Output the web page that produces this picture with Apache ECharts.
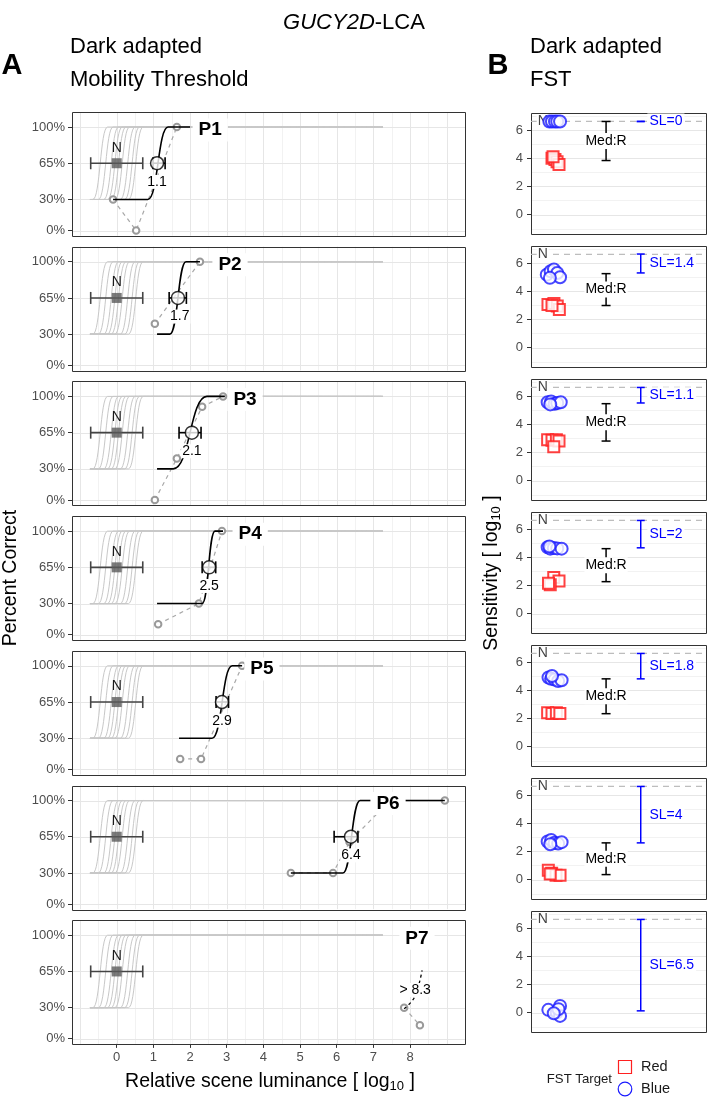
<!DOCTYPE html>
<html><head><meta charset="utf-8">
<script src="https://cdn.jsdelivr.net/npm/echarts@6/dist/echarts.min.js"></script>
<style>html,body{margin:0;padding:0;background:#fff}#c{width:708px;height:1097px}</style>
</head><body><div id="c"></div><script>
// ================= DATA =================
const patients = ['P1','P2','P3','P4','P5','P6','P7'];
const xTickLabels = [0,1,2,3,4,5,6,7,8];
const yTickLabelsA = [0,30,65,100];
const yTickLabelsB = [0,2,4,6];
const aGridMajorX = [-1,0,1,2,3,4,5,6,7,8,9];
const aGridMinorX = [-0.5,0.5,1.5,2.5,3.5,4.5,5.5,6.5,7.5,8.5];
const bGridMajorY = [0,2,4,6];
const bGridMinorY = [-1,1,3,5,7];

// Normal-sighted control curves: flat start, rise start, rise end, flat end
const normalCurves = [
  [[-0.73,30],[-0.65,30],[-0.25,100],[7.26,100]],
  [[-0.73,30],[-0.50,30],[-0.10,100],[7.26,100]],
  [[-0.73,30],[-0.35,30],[0.05,100],[7.26,100]],
  [[-0.73,30],[-0.25,30],[0.15,100],[7.26,100]],
  [[-0.73,30],[-0.15,30],[0.25,100],[7.26,100]],
  [[-0.73,30],[-0.05,30],[0.35,100],[7.26,100]],
  [[-0.73,30],[0.10,30],[0.50,100],[7.26,100]],
  [[-0.73,30],[0.22,30],[0.62,100],[7.26,100]],
  [[-0.73,30],[0.32,30],[0.72,100],[7.26,100]]
];
const normalMean = [0, 65];
const normalRange = [-0.71, 0.71];
const normalLabelY = 80;

// Patient observed points (grey dashed)
const patientObs = [
  [[-0.1,30],[0.53,0],[1.64,100]],
  [[1.04,40],[2.27,100]],
  [[1.04,0],[1.64,40],[2.33,90],[2.9,100]],
  [[1.13,10],[2.24,30],[2.87,100]],
  [[1.73,10],[2.3,10],[3.42,100]],
  [[4.75,30],[5.9,30],[6.35,60],[7.45,100],[8.95,100]],
  [[7.84,30],[8.27,13]]
];
// Patient fitted curves (black)
const patientFit = [
  [[-0.1,30],[0.85,30],[1.4,100],[2.0,100]],
  [[1.1,30],[1.45,30],[1.89,100],[2.27,100]],
  [[1.1,30],[1.54,30],[2.46,100],[2.95,100]],
  [[1.1,30],[2.33,30],[2.68,100],[2.9,100]],
  [[1.7,30],[2.6,30],[3.15,100],[3.42,100]],
  [[4.75,30],[6.17,30],[6.64,100],[8.95,100]],
  [[7.84,29],[8.12,40],[8.33,66]]
];
const thresholdX = [1.1, 1.67, 2.05, 2.52, 2.87, 6.39, null];
const thresholdCI = [[0.99,1.32],[1.43,1.9],[1.7,2.3],[2.33,2.7],[2.71,3.05],[5.93,6.58],null];
const thresholdText = ['1.1','1.7','2.1','2.5','2.9','6.4','> 8.3'];
const thresholdTextX = [1.1, 1.72, 2.05, 2.52, 2.87, 6.39, 8.14];
const thresholdTextY = 47;
const patientLabelX = [2.55, 3.09, 3.5, 3.64, 3.96, 7.4, 8.19];

// FST (panel B)
const nLevel = 6.6;
const blueFST = [
  [[1.05,6.6],[1.2,6.6],[1.37,6.6],[1.5,6.6],[1.66,6.6]],
  [[0.9,5.17],[1.12,5.41],[1.31,5.53],[1.5,5.29],[1.66,4.98],[1.08,4.94]],
  [[0.95,5.55],[1.15,5.6],[1.35,5.45],[1.5,5.5],[1.7,5.55],[1.1,5.4]],
  [[0.95,4.7],[1.1,4.6],[1.3,4.65],[1.5,4.62],[1.75,4.6],[1.05,4.75]],
  [[1.0,4.9],[1.15,4.8],[1.35,4.75],[1.55,4.65],[1.75,4.7],[1.2,5.0]],
  [[0.95,2.7],[1.15,2.8],[1.35,2.6],[1.55,2.55],[1.75,2.65],[1.1,2.5]],
  [[0.99,0.19],[1.47,0.0],[1.66,0.47],[1.66,-0.24],[1.57,0.24],[1.3,-0.05]]
];
const redFST = [
  [[1.2,4.0],[1.37,3.9],[1.49,3.75],[1.6,3.55],[1.26,4.1]],
  [[0.97,3.06],[1.31,3.13],[1.5,2.94],[1.62,2.7],[1.2,2.98]],
  [[0.95,2.9],[1.2,2.85],[1.45,2.9],[1.6,2.8],[1.3,2.4]],
  [[1.3,2.55],[1.6,2.3],[1.1,2.05],[1.0,2.15]],
  [[0.95,2.4],[1.2,2.35],[1.45,2.4],[1.65,2.35]],
  [[0.99,0.65],[1.18,0.45],[1.43,0.3],[1.66,0.3],[1.1,0.4]],
  []
];
const medR = [[6.6,3.83],[5.24,2.98],[5.45,2.8],[4.6,2.26],[4.8,2.33],[2.6,0.35],null];
const slBars = [[6.6,6.6],[6.63,5.29],[6.6,5.5],[6.6,4.66],[6.6,4.8],[6.6,2.6],[6.6,0.12]];
const slLabels = ['SL=0','SL=1.4','SL=1.1','SL=2','SL=1.8','SL=4','SL=6.5'];
const medX = 4.29, slX = 6.27, slTextX = 6.65, nTextX = 0.67;

// ================= LAYOUT =================
const FONT = '"Liberation Sans", Arial, Helvetica, sans-serif';
const A_LEFT=72, A_W=393, A_TOP0=112, A_PITCH=134.7, A_H=123.7;
const B_LEFT=531, B_W=175, B_TOP0=113, B_PITCH=133, B_H=121;

function frameSeries(gi, xsMaj, ysMaj, xsMin, ysMin) {
  return {type:'custom', xAxisIndex:gi, yAxisIndex:gi, z:1, silent:true, animation:false,
    data:[[0,0]],
    renderItem:(params, api)=>{
      const cs = params.coordSys; const ch=[];
      const add=(vals, vert, color, w)=>vals.forEach(v=>{
        if (vert){ const px=Math.round(api.coord([v,0])[0])+0.5;
          ch.push({type:'line', shape:{x1:px,y1:cs.y,x2:px,y2:cs.y+cs.height}, style:{stroke:color,lineWidth:w}}); }
        else { const py=Math.round(api.coord([0,v])[1])+0.5;
          ch.push({type:'line', shape:{x1:cs.x,y1:py,x2:cs.x+cs.width,y2:py}, style:{stroke:color,lineWidth:w}}); }
      });
      add(xsMin,true,'#f2f2f2',1); add(ysMin,false,'#f2f2f2',1);
      add(xsMaj,true,'#e6e6e6',1); add(ysMaj,false,'#e6e6e6',1);
      ch.push({type:'rect', shape:{x:Math.round(cs.x)+0.5,y:Math.round(cs.y)+0.5,width:Math.round(cs.width),height:Math.round(cs.height)},
        style:{fill:null, stroke:'#333', lineWidth:1}});
      return {type:'group', children:ch};
    }};
}
function textSeries(gi, items, st, z) {
  return {type:'custom', xAxisIndex:gi, yAxisIndex:gi, z:z||9, silent:true, animation:false,
    data: items.map(t=>[t[0],t[1]]),
    renderItem:(params, api)=>{ const t=items[params.dataIndex]; const p=api.coord([t[0],t[1]]);
      return {type:'text', x:p[0], y:p[1], style:Object.assign({text:t[2], align:'center', verticalAlign:'middle', fontFamily:FONT}, st)}; }
  };
}
// horizontal error bars: [xlo, xhi, y]
function hErrSeries(gi, items, color, lw, capH, z) {
  return {type:'custom', xAxisIndex:gi, yAxisIndex:gi, z:z, silent:true, animation:false,
    data: items,
    renderItem:(params, api)=>{
      const a=api.coord([api.value(0), api.value(2)]), b=api.coord([api.value(1), api.value(2)]);
      const st={stroke:color, lineWidth:lw};
      return {type:'group', children:[
        {type:'line', shape:{x1:a[0],y1:a[1],x2:b[0],y2:b[1]}, style:st},
        {type:'line', shape:{x1:a[0],y1:a[1]-capH/2,x2:a[0],y2:a[1]+capH/2}, style:st},
        {type:'line', shape:{x1:b[0],y1:b[1]-capH/2,x2:b[0],y2:b[1]+capH/2}, style:st}]};
    }};
}
// vertical error bars: [x, ylo, yhi]
function vErrSeries(gi, items, color, lw, capW, z) {
  return {type:'custom', xAxisIndex:gi, yAxisIndex:gi, z:z, silent:true, animation:false,
    data: items,
    renderItem:(params, api)=>{
      const a=api.coord([api.value(0), api.value(1)]), b=api.coord([api.value(0), api.value(2)]);
      const st={stroke:color, lineWidth:lw};
      return {type:'group', children:[
        {type:'line', shape:{x1:a[0],y1:a[1],x2:b[0],y2:b[1]}, style:st},
        {type:'line', shape:{x1:a[0]-capW/2,y1:a[1],x2:a[0]+capW/2,y2:a[1]}, style:st},
        {type:'line', shape:{x1:b[0]-capW/2,y1:b[1],x2:b[0]+capW/2,y2:b[1]}, style:st}]};
    }};
}

const grids=[], xAxes=[], yAxes=[], series=[];
// ---- Panel A ----
for (let i=0;i<7;i++){
  const top = A_TOP0 + i*A_PITCH;
  const last = i===6;
  grids.push({left:A_LEFT, top:top, width:A_W, height:A_H, show:false});
  xAxes.push({type:'value', gridIndex:i, min:-1.22, max:9.5, position:'bottom',
    axisLine:{show:false, onZero:false}, splitLine:{show:false}, splitArea:{show:false},
    axisTick:{show:last, customValues:xTickLabels, length:4, lineStyle:{color:'#333'}},
    axisLabel:{show:last, customValues:xTickLabels, color:'#4d4d4d', fontSize:13, fontFamily:FONT, margin:7}});
  yAxes.push({type:'value', gridIndex:i, min:-5, max:114.5, position:'left',
    axisLine:{show:false, onZero:false}, splitLine:{show:false}, splitArea:{show:false},
    axisTick:{show:true, customValues:yTickLabelsA, length:4, lineStyle:{color:'#333'}},
    axisLabel:{customValues:yTickLabelsA, formatter:v=>v+'%', color:'#4d4d4d', fontSize:13, fontFamily:FONT, margin:7}});

  series.push(frameSeries(i, aGridMajorX, yTickLabelsA, aGridMinorX, []));
  normalCurves.forEach(c=>series.push({type:'line', xAxisIndex:i, yAxisIndex:i, data:c, smooth:0.5, smoothMonotone:'x',
    symbol:'none', lineStyle:{color:'#c8c8c8', width:1}, z:2, silent:true, animation:false}));
  series.push(hErrSeries(i, [[normalRange[0], normalRange[1], normalMean[1]]], '#444', 1.6, 12, 3));
  series.push({type:'scatter', xAxisIndex:i, yAxisIndex:i, data:[normalMean], symbol:'rect', symbolSize:10,
    itemStyle:{color:'#5a5a5a'}, z:4, silent:true, animation:false});
  series.push(textSeries(i, [[normalMean[0], normalLabelY, 'N']], {fill:'#1a1a1a', fontSize:14}, 4));
  series.push({type:'line', xAxisIndex:i, yAxisIndex:i, data:patientObs[i], symbol:'emptyCircle', symbolSize:6.5,
    lineStyle:{color:'#a8a8a8', width:1.2, type:[4,4]}, itemStyle:{color:'#9a9a9a', borderWidth:1},
    z:5, silent:true, animation:false});
  if (i<6) {
    series.push({type:'line', xAxisIndex:i, yAxisIndex:i, data:patientFit[i], smooth:0.5, smoothMonotone:'x',
      symbol:'none', lineStyle:{color:'#000', width:1.6}, z:6, silent:true, animation:false});
  } else {
    series.push({type:'line', xAxisIndex:i, yAxisIndex:i, data:patientFit[i], smooth:0.4,
      symbol:'none', lineStyle:{color:'#000', width:1.3, type:[3,3]}, z:6, silent:true, animation:false});
  }
  if (thresholdX[i]!==null){
    series.push(hErrSeries(i, [[thresholdCI[i][0], thresholdCI[i][1], 65]], '#000', 1.6, 12, 7));
    series.push({type:'scatter', xAxisIndex:i, yAxisIndex:i, data:[[thresholdX[i],65]], symbol:'circle', symbolSize:13,
      itemStyle:{color:'#fff', borderColor:'#000', borderWidth:1.5}, z:8, silent:true, animation:false});
  }
  series.push(textSeries(i, [[thresholdTextX[i], thresholdTextY, thresholdText[i]]],
    {fill:'#000', fontSize:14, backgroundColor:'#fff', padding:[0,1]}, 9));
  series.push(textSeries(i, [[patientLabelX[i], 97, patients[i]]],
    {fill:'#000', fontSize:19, fontWeight:'bold', backgroundColor:'#fff', padding:[2,6]}, 9));
}
// ---- Panel B ----
for (let i=0;i<7;i++){
  const gi = 7+i; const top = B_TOP0 + i*B_PITCH;
  grids.push({left:B_LEFT, top:top, width:B_W, height:B_H, show:false});
  xAxes.push({type:'value', gridIndex:gi, min:0, max:10, show:false, axisLine:{onZero:false}});
  yAxes.push({type:'value', gridIndex:gi, min:-1.38, max:7.2, position:'left',
    axisLine:{show:false, onZero:false}, splitLine:{show:false}, splitArea:{show:false},
    axisTick:{show:true, customValues:yTickLabelsB, length:4, lineStyle:{color:'#333'}},
    axisLabel:{customValues:yTickLabelsB, color:'#4d4d4d', fontSize:13, fontFamily:FONT, margin:8}});
  series.push(frameSeries(gi, [], bGridMajorY, [], bGridMinorY));
  series.push({type:'line', xAxisIndex:gi, yAxisIndex:gi, data:[[0,nLevel],[10,nLevel]], symbol:'none',
    lineStyle:{color:'#bdbdbd', width:1.2, type:[6,5]}, z:2, silent:true, animation:false});
  series.push(textSeries(gi, [[nTextX, nLevel, 'N']], {fill:'#444', fontSize:14, backgroundColor:'#fff', padding:[0,1]}, 3));
  if (redFST[i].length) series.push({type:'scatter', xAxisIndex:gi, yAxisIndex:gi, data:redFST[i], symbol:'emptyRect', symbolSize:11,
    itemStyle:{color:'#ff2020', borderWidth:0.9, opacity:0.85}, z:4, silent:true, animation:false});
  series.push({type:'scatter', xAxisIndex:gi, yAxisIndex:gi, data:blueFST[i], symbol:'emptyCircle', symbolSize:12,
    itemStyle:{color:'#1a1aff', borderWidth:0.9, opacity:0.8}, z:5, silent:true, animation:false});
  if (medR[i]) {
    series.push(vErrSeries(gi, [[medX, medR[i][1], medR[i][0]]], '#000', 1.5, 9, 6));
    series.push(textSeries(gi, [[medX, (medR[i][0]+medR[i][1])/2, 'Med:R']], {fill:'#000', fontSize:14, backgroundColor:'#fff', padding:[1,1]}, 7));
  }
  series.push(vErrSeries(gi, [[slX, slBars[i][1], slBars[i][0]]], '#0000ff', 1.5, 8, 6));
  series.push(textSeries(gi, [[slTextX, (slBars[i][0]+slBars[i][1])/2, slLabels[i]]],
    {fill:'#0000ff', fontSize:14, align:'left', backgroundColor:'#fff', padding:[1,2]}, 7));
}

const graphic = [
  {type:'text', x:354, y:23, style:{text:'{i|GUCY2D}{n|-LCA}', align:'center', verticalAlign:'middle',
    rich:{i:{fontStyle:'italic', fontSize:22, fontFamily:FONT, fill:'#000'}, n:{fontSize:22, fontFamily:FONT, fill:'#000'}}}},
  {type:'text', x:12, y:66, style:{text:'A', align:'center', verticalAlign:'middle', fontSize:29, fontWeight:'bold', fontFamily:FONT, fill:'#000'}},
  {type:'text', x:70, y:47, style:{text:'Dark adapted', align:'left', verticalAlign:'middle', fontSize:22, fontFamily:FONT, fill:'#000'}},
  {type:'text', x:70, y:80, style:{text:'Mobility Threshold', align:'left', verticalAlign:'middle', fontSize:22, fontFamily:FONT, fill:'#000'}},
  {type:'text', x:498, y:66, style:{text:'B', align:'center', verticalAlign:'middle', fontSize:29, fontWeight:'bold', fontFamily:FONT, fill:'#000'}},
  {type:'text', x:530, y:47, style:{text:'Dark adapted', align:'left', verticalAlign:'middle', fontSize:22, fontFamily:FONT, fill:'#000'}},
  {type:'text', x:530, y:80, style:{text:'FST', align:'left', verticalAlign:'middle', fontSize:22, fontFamily:FONT, fill:'#000'}},
  {type:'text', x:11, y:578, rotation:Math.PI/2, style:{text:'Percent Correct', align:'center', verticalAlign:'middle', fontSize:19.5, fontFamily:FONT, fill:'#000'}},
  {type:'text', x:270, y:1082, style:{text:'{a|Relative scene luminance [ log}{s|10}{a| ]}', align:'center', verticalAlign:'middle',
    rich:{a:{fontSize:19.5, fontFamily:FONT, fill:'#000', lineHeight:22}, s:{fontSize:13, fontFamily:FONT, fill:'#000', verticalAlign:'bottom', lineHeight:13}}}},
  {type:'text', x:492, y:573, rotation:Math.PI/2, style:{text:'{a|Sensitivity [ log}{s|10}{a| ]}', align:'center', verticalAlign:'middle',
    rich:{a:{fontSize:19.5, fontFamily:FONT, fill:'#000', lineHeight:22}, s:{fontSize:13, fontFamily:FONT, fill:'#000', verticalAlign:'bottom', lineHeight:13}}}},
  {type:'text', x:612, y:1079, style:{text:'FST Target', align:'right', verticalAlign:'middle', fontSize:13.2, fontFamily:FONT, fill:'#1a1a1a'}},
  {type:'rect', shape:{x:618.5, y:1060.5, width:13, height:13}, style:{fill:'none', stroke:'#ff2020', lineWidth:1.2}},
  {type:'circle', shape:{cx:625, cy:1089, r:6.8}, style:{fill:'none', stroke:'#1a1aff', lineWidth:1.2}},
  {type:'text', x:641, y:1067, style:{text:'Red', align:'left', verticalAlign:'middle', fontSize:14.5, fontFamily:FONT, fill:'#1a1a1a'}},
  {type:'text', x:641, y:1089, style:{text:'Blue', align:'left', verticalAlign:'middle', fontSize:14.5, fontFamily:FONT, fill:'#1a1a1a'}}
];

const chart = echarts.init(document.getElementById('c'), null, {renderer:'canvas'});
chart.setOption({animation:false, backgroundColor:'#fff', textStyle:{fontFamily:FONT},
  grid:grids, xAxis:xAxes, yAxis:yAxes, series:series, graphic:graphic});
</script></body></html>
